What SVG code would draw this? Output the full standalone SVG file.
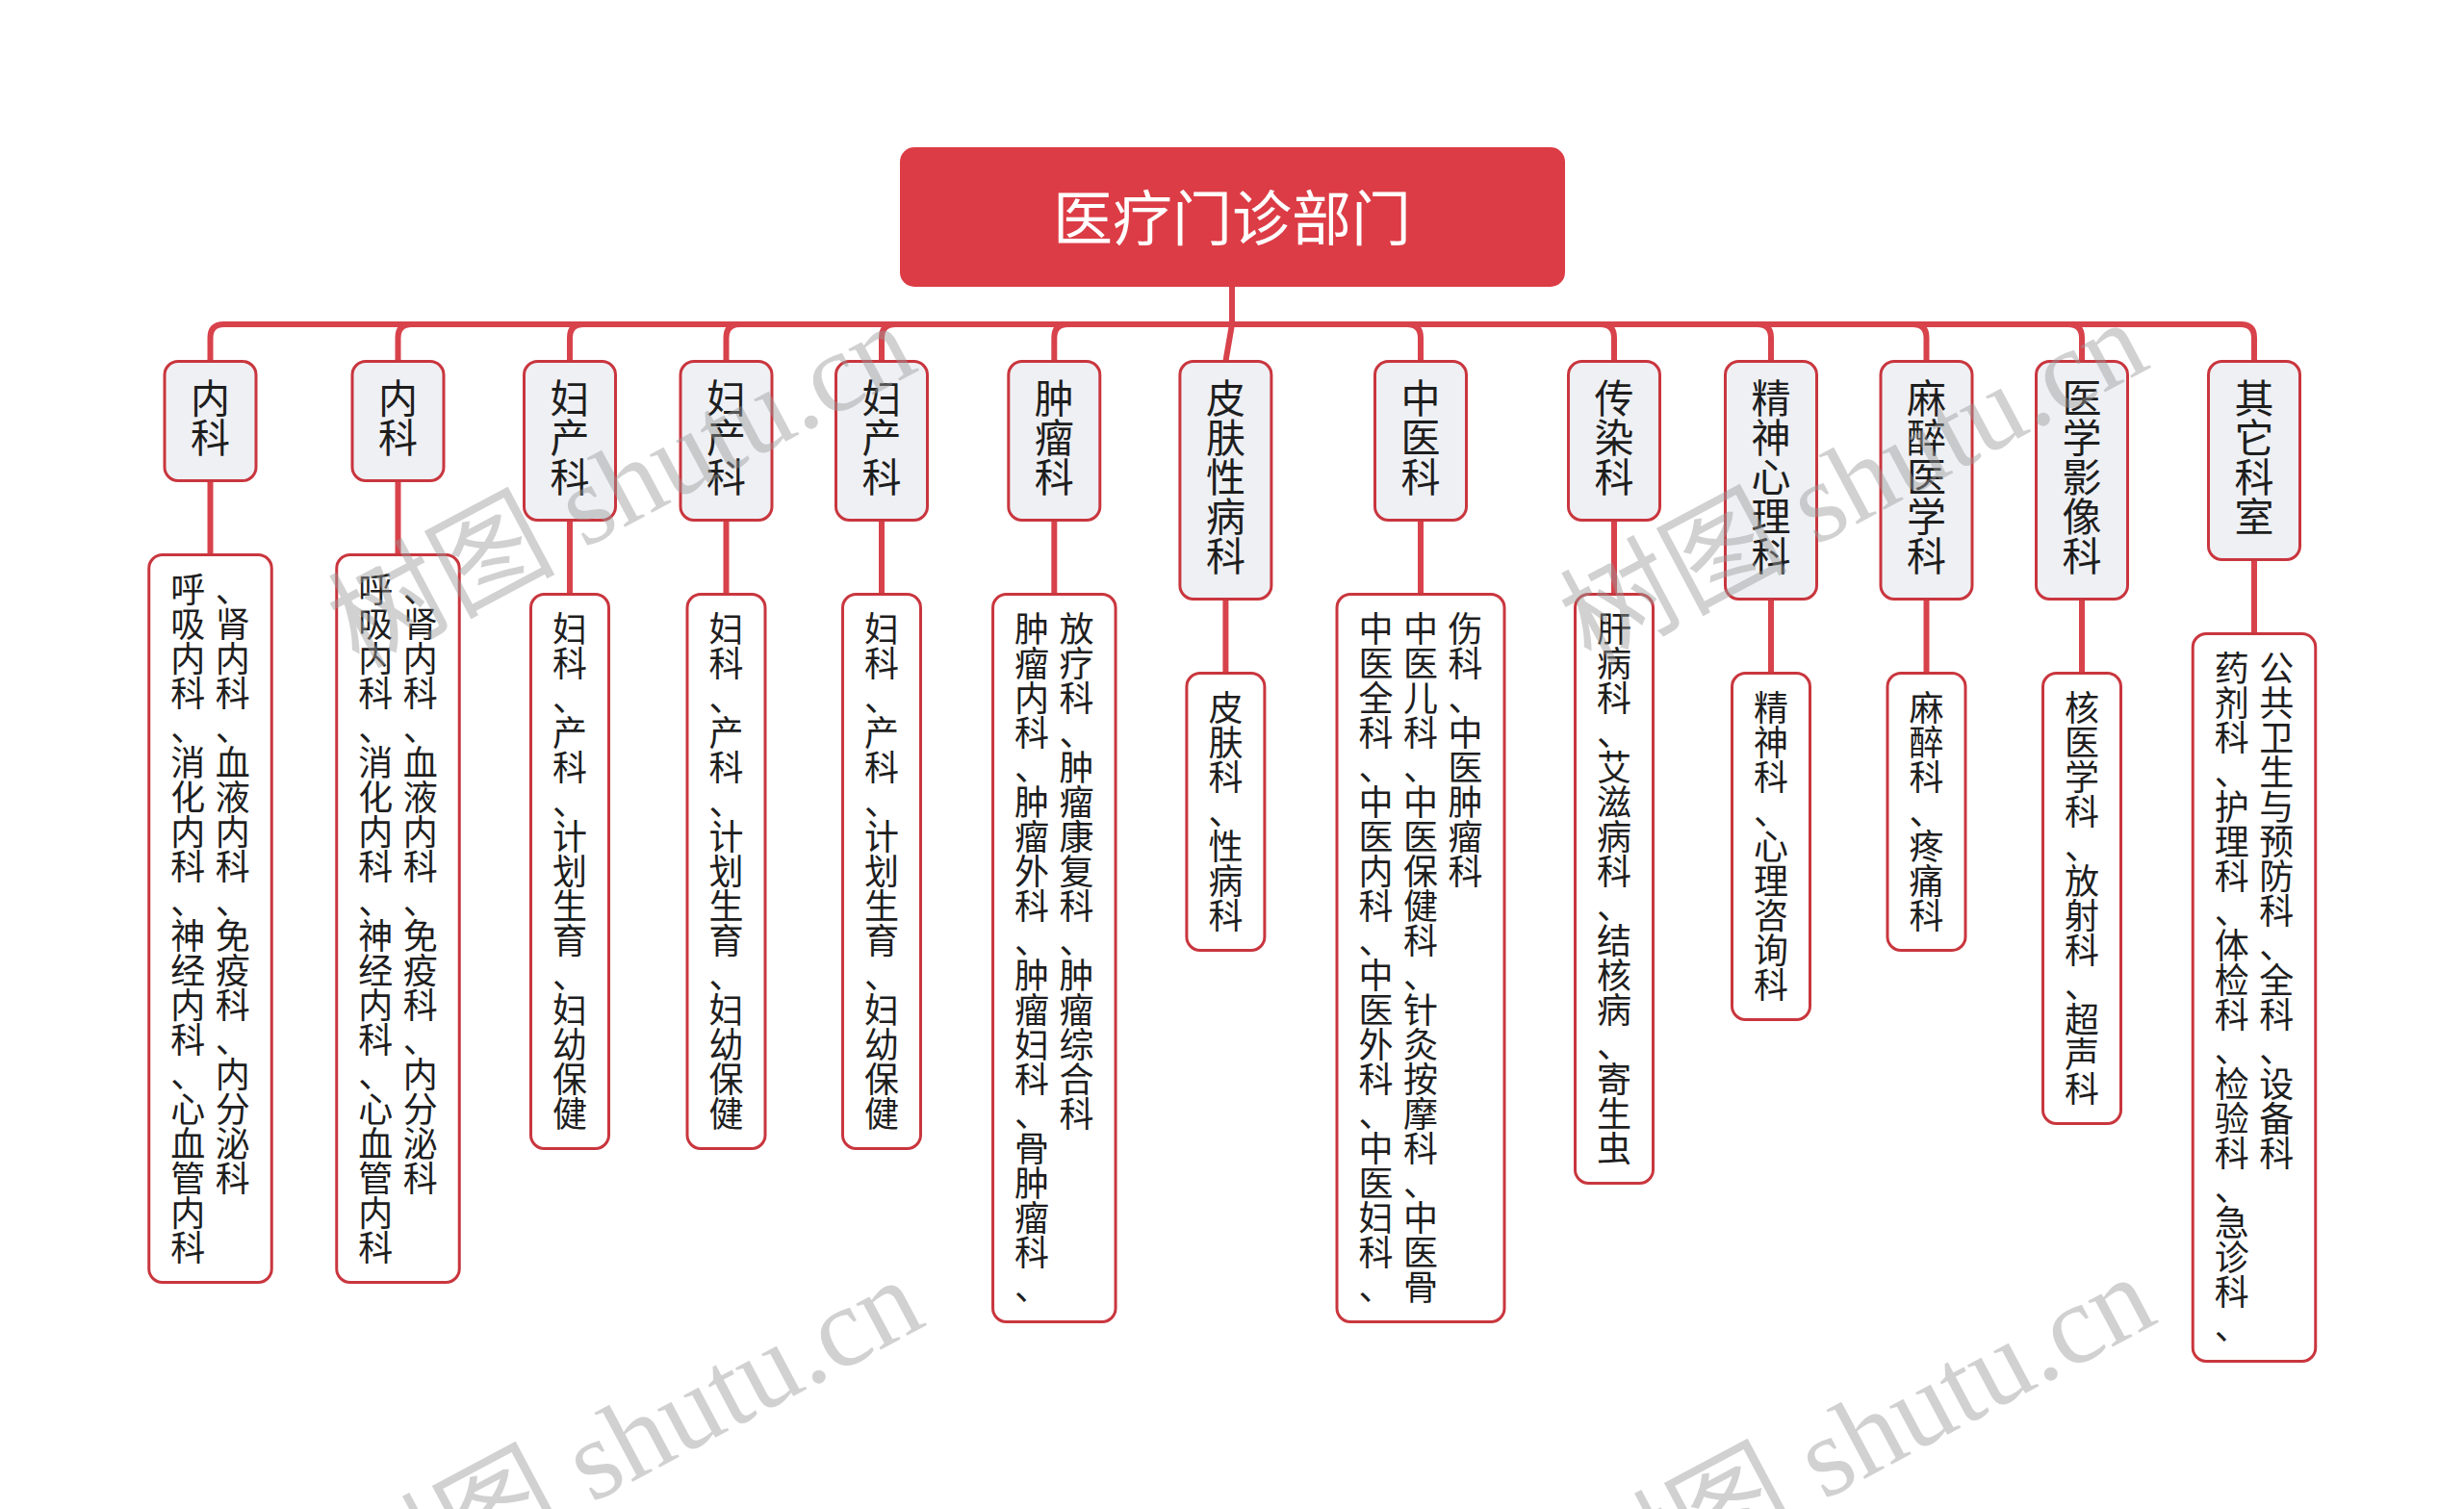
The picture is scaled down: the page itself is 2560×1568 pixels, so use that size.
<svg xmlns="http://www.w3.org/2000/svg" width="2560" height="1568" viewBox="0 0 2560 1568">
<style>
.bg{fill:#ffffff}
.root rect{fill:#dc3c45}
.root text{font-family:"Noto Sans CJK SC","Noto Sans",sans-serif;font-size:62px;fill:#ffffff;text-anchor:middle}
.l1 rect{fill:#eef0f4;stroke:#c9363e;stroke-width:3}
.l2 rect{fill:#ffffff;stroke:#c9363e;stroke-width:3}
.l1 text{font-family:"Noto Sans CJK SC","Noto Sans",sans-serif;font-size:41px;fill:#1e1e1e;text-anchor:middle}
.l2 text{font-family:"Noto Sans CJK SC","Noto Sans",sans-serif;font-size:36px;fill:#1e1e1e;text-anchor:middle}
.conn path{fill:none;stroke:#d8424b;stroke-width:6}
.wm{font-family:"Liberation Serif","Noto Sans CJK SC",serif;font-size:118px;fill:#9a9a9a;opacity:0.45}
</style>
<rect class="bg" x="0" y="0" width="2560" height="1568"/>
<g id="connectors" class="conn">
<path d="M1280 298 V337"/>
<path d="M1280 337 H232.5 Q218.5 337 218.5 351 V375.5"/>
<path d="M1280 337 H427.5 Q413.5 337 413.5 351 V375.5"/>
<path d="M1280 337 H606 Q592 337 592 351 V375.5"/>
<path d="M1280 337 H768.5 Q754.5 337 754.5 351 V375.5"/>
<path d="M1280 337 H930 Q916 337 916 351 V375.5"/>
<path d="M1280 337 H1109.3 Q1095.3 337 1095.3 351 V375.5"/>
<path d="M1280 337 L1273.4 375.5"/>
<path d="M1280 337 H1462 Q1476 337 1476 351 V375.5"/>
<path d="M1280 337 H1663 Q1677 337 1677 351 V375.5"/>
<path d="M1280 337 H1826 Q1840 337 1840 351 V375.5"/>
<path d="M1280 337 H1987.5 Q2001.5 337 2001.5 351 V375.5"/>
<path d="M1280 337 H2149 Q2163 337 2163 351 V375.5"/>
<path d="M1280 337 H2328 Q2342 337 2342 351 V375.5"/>
<path d="M218.5 499.5 V576.5"/>
<path d="M413.5 499.5 V576.5"/>
<path d="M592 540.5 V617.5"/>
<path d="M754.5 540.5 V617.5"/>
<path d="M916 540.5 V617.5"/>
<path d="M1095.3 540.5 V617.5"/>
<path d="M1273.4 622.5 V699.5"/>
<path d="M1476 540.5 V617.5"/>
<path d="M1677 540.5 V617.5"/>
<path d="M1840 622.5 V699.5"/>
<path d="M2001.5 622.5 V699.5"/>
<path d="M2163 622.5 V699.5"/>
<path d="M2342 581.5 V658.5"/>
</g>
<g id="root" class="root">
<rect x="935" y="153" width="691" height="145" rx="15"/>
<text x="1280" y="250">医疗门诊部门</text>
</g>
<g id="n1" class="l1"><rect x="171" y="375.5" width="95" height="124" rx="14"/><text x="218.5 218.5" y="429 470">内科</text></g>
<g id="n2" class="l1"><rect x="366" y="375.5" width="95" height="124" rx="14"/><text x="413.5 413.5" y="429 470">内科</text></g>
<g id="n3" class="l1"><rect x="544.5" y="375.5" width="95" height="165" rx="14"/><text x="592 592 592" y="429 470 511">妇产科</text></g>
<g id="n4" class="l1"><rect x="707" y="375.5" width="95" height="165" rx="14"/><text x="754.5 754.5 754.5" y="429 470 511">妇产科</text></g>
<g id="n5" class="l1"><rect x="868.5" y="375.5" width="95" height="165" rx="14"/><text x="916 916 916" y="429 470 511">妇产科</text></g>
<g id="n6" class="l1"><rect x="1047.8" y="375.5" width="95" height="165" rx="14"/><text x="1095.3 1095.3 1095.3" y="429 470 511">肿瘤科</text></g>
<g id="n7" class="l1"><rect x="1225.9" y="375.5" width="95" height="247" rx="14"/><text x="1273.4 1273.4 1273.4 1273.4 1273.4" y="429 470 511 552 593">皮肤性病科</text></g>
<g id="n8" class="l1"><rect x="1428.5" y="375.5" width="95" height="165" rx="14"/><text x="1476 1476 1476" y="429 470 511">中医科</text></g>
<g id="n9" class="l1"><rect x="1629.5" y="375.5" width="95" height="165" rx="14"/><text x="1677 1677 1677" y="429 470 511">传染科</text></g>
<g id="n10" class="l1"><rect x="1792.5" y="375.5" width="95" height="247" rx="14"/><text x="1840 1840 1840 1840 1840" y="429 470 511 552 593">精神心理科</text></g>
<g id="n11" class="l1"><rect x="1954" y="375.5" width="95" height="247" rx="14"/><text x="2001.5 2001.5 2001.5 2001.5 2001.5" y="429 470 511 552 593">麻醉医学科</text></g>
<g id="n12" class="l1"><rect x="2115.5" y="375.5" width="95" height="247" rx="14"/><text x="2163 2163 2163 2163 2163" y="429 470 511 552 593">医学影像科</text></g>
<g id="n13" class="l1"><rect x="2294.5" y="375.5" width="95" height="206" rx="14"/><text x="2342 2342 2342 2342" y="429 470 511 552">其它科室</text></g>
<g id="n1a" class="l2"><rect x="154.75" y="576.5" width="127.5" height="756" rx="14"/><text x="195.25 195.25 195.25 195.25 195.25 195.25 195.25 195.25 195.25 195.25 195.25 195.25 195.25 195.25 195.25 195.25 195.25 195.25 195.25 195.25 241.75 241.75 241.75 241.75 241.75 241.75 241.75 241.75 241.75 241.75 241.75 241.75 241.75 241.75 241.75 241.75 241.75 241.75" y="626 662 698 734 770 806 842 878 914 950 986 1022 1058 1094 1130 1166 1202 1238 1274 1310 626 662 698 734 770 806 842 878 914 950 986 1022 1058 1094 1130 1166 1202 1238">呼吸内科、消化内科、神经内科、心血管内科、肾内科、血液内科、免疫科、内分泌科</text></g>
<g id="n2a" class="l2"><rect x="349.75" y="576.5" width="127.5" height="756" rx="14"/><text x="390.25 390.25 390.25 390.25 390.25 390.25 390.25 390.25 390.25 390.25 390.25 390.25 390.25 390.25 390.25 390.25 390.25 390.25 390.25 390.25 436.75 436.75 436.75 436.75 436.75 436.75 436.75 436.75 436.75 436.75 436.75 436.75 436.75 436.75 436.75 436.75 436.75 436.75" y="626 662 698 734 770 806 842 878 914 950 986 1022 1058 1094 1130 1166 1202 1238 1274 1310 626 662 698 734 770 806 842 878 914 950 986 1022 1058 1094 1130 1166 1202 1238">呼吸内科、消化内科、神经内科、心血管内科、肾内科、血液内科、免疫科、内分泌科</text></g>
<g id="n3a" class="l2"><rect x="551.5" y="617.5" width="81" height="576" rx="14"/><text x="592 592 592 592 592 592 592 592 592 592 592 592 592 592 592" y="667 703 739 775 811 847 883 919 955 991 1027 1063 1099 1135 1171">妇科、产科、计划生育、妇幼保健</text></g>
<g id="n4a" class="l2"><rect x="714" y="617.5" width="81" height="576" rx="14"/><text x="754.5 754.5 754.5 754.5 754.5 754.5 754.5 754.5 754.5 754.5 754.5 754.5 754.5 754.5 754.5" y="667 703 739 775 811 847 883 919 955 991 1027 1063 1099 1135 1171">妇科、产科、计划生育、妇幼保健</text></g>
<g id="n5a" class="l2"><rect x="875.5" y="617.5" width="81" height="576" rx="14"/><text x="916 916 916 916 916 916 916 916 916 916 916 916 916 916 916" y="667 703 739 775 811 847 883 919 955 991 1027 1063 1099 1135 1171">妇科、产科、计划生育、妇幼保健</text></g>
<g id="n6a" class="l2"><rect x="1031.55" y="617.5" width="127.5" height="756" rx="14"/><text x="1072 1072 1072 1072 1072 1072 1072 1072 1072 1072 1072 1072 1072 1072 1072 1072 1072 1072 1072 1072 1118.5 1118.5 1118.5 1118.5 1118.5 1118.5 1118.5 1118.5 1118.5 1118.5 1118.5 1118.5 1118.5 1118.5 1118.5" y="667 703 739 775 811 847 883 919 955 991 1027 1063 1099 1135 1171 1207 1243 1279 1315 1351 667 703 739 775 811 847 883 919 955 991 1027 1063 1099 1135 1171">肿瘤内科、肿瘤外科、肿瘤妇科、骨肿瘤科、放疗科、肿瘤康复科、肿瘤综合科</text></g>
<g id="n7a" class="l2"><rect x="1232.9" y="699.5" width="81" height="288" rx="14"/><text x="1273.4 1273.4 1273.4 1273.4 1273.4 1273.4 1273.4" y="749 785 821 857 893 929 965">皮肤科、性病科</text></g>
<g id="n8a" class="l2"><rect x="1389" y="617.5" width="174" height="756" rx="14"/><text x="1429.5 1429.5 1429.5 1429.5 1429.5 1429.5 1429.5 1429.5 1429.5 1429.5 1429.5 1429.5 1429.5 1429.5 1429.5 1429.5 1429.5 1429.5 1429.5 1429.5 1476 1476 1476 1476 1476 1476 1476 1476 1476 1476 1476 1476 1476 1476 1476 1476 1476 1476 1476 1476 1522.5 1522.5 1522.5 1522.5 1522.5 1522.5 1522.5 1522.5" y="667 703 739 775 811 847 883 919 955 991 1027 1063 1099 1135 1171 1207 1243 1279 1315 1351 667 703 739 775 811 847 883 919 955 991 1027 1063 1099 1135 1171 1207 1243 1279 1315 1351 667 703 739 775 811 847 883 919">中医全科、中医内科、中医外科、中医妇科、中医儿科、中医保健科、针灸按摩科、中医骨伤科、中医肿瘤科</text></g>
<g id="n9a" class="l2"><rect x="1636.5" y="617.5" width="81" height="612" rx="14"/><text x="1677 1677 1677 1677 1677 1677 1677 1677 1677 1677 1677 1677 1677 1677 1677 1677" y="667 703 739 775 811 847 883 919 955 991 1027 1063 1099 1135 1171 1207">肝病科、艾滋病科、结核病、寄生虫</text></g>
<g id="n10a" class="l2"><rect x="1799.5" y="699.5" width="81" height="360" rx="14"/><text x="1840 1840 1840 1840 1840 1840 1840 1840 1840" y="749 785 821 857 893 929 965 1001 1037">精神科、心理咨询科</text></g>
<g id="n11a" class="l2"><rect x="1961" y="699.5" width="81" height="288" rx="14"/><text x="2001.5 2001.5 2001.5 2001.5 2001.5 2001.5 2001.5" y="749 785 821 857 893 929 965">麻醉科、疼痛科</text></g>
<g id="n12a" class="l2"><rect x="2122.5" y="699.5" width="81" height="468" rx="14"/><text x="2163 2163 2163 2163 2163 2163 2163 2163 2163 2163 2163 2163" y="749 785 821 857 893 929 965 1001 1037 1073 1109 1145">核医学科、放射科、超声科</text></g>
<g id="n13a" class="l2"><rect x="2278.25" y="658.5" width="127.5" height="756" rx="14"/><text x="2318.75 2318.75 2318.75 2318.75 2318.75 2318.75 2318.75 2318.75 2318.75 2318.75 2318.75 2318.75 2318.75 2318.75 2318.75 2318.75 2318.75 2318.75 2318.75 2318.75 2365.25 2365.25 2365.25 2365.25 2365.25 2365.25 2365.25 2365.25 2365.25 2365.25 2365.25 2365.25 2365.25 2365.25 2365.25" y="708 744 780 816 852 888 924 960 996 1032 1068 1104 1140 1176 1212 1248 1284 1320 1356 1392 708 744 780 816 852 888 924 960 996 1032 1068 1104 1140 1176 1212">药剂科、护理科、体检科、检验科、急诊科、公共卫生与预防科、全科、设备科</text></g>
<g id="watermarks">
<text class="wm" transform="translate(372 695) rotate(-28)">树图 shutu.cn</text>
<text class="wm" transform="translate(1652 692) rotate(-28)">树图 shutu.cn</text>
<text class="wm" transform="translate(380 1687) rotate(-28)">树图 shutu.cn</text>
<text class="wm" transform="translate(1660 1684) rotate(-28)">树图 shutu.cn</text>
</g>
</svg>
